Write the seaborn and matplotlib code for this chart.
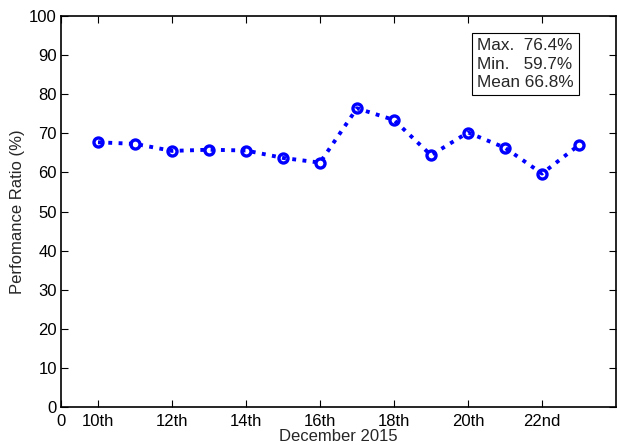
import matplotlib
matplotlib.use("Agg")
import matplotlib.pyplot as plt
import seaborn as sns
import pandas as pd

days = [10, 11, 12, 13, 14, 15, 16, 17, 18, 19, 20, 21, 22, 23]
ratio = [67.7, 67.3, 65.5, 65.8, 65.6, 63.7, 62.5, 76.4, 73.4, 64.4, 70.2, 66.3, 59.7, 67.0]
xtick_pos = [9, 10, 12, 14, 16, 18, 20, 22]
xtick_labels = ["0", "10th", "12th", "14th", "16th", "18th", "20th", "22nd"]
ytick_pos = [0, 10, 20, 30, 40, 50, 60, 70, 80, 90, 100]
stats_text = "Max.  76.4%\nMin.   59.7%\nMean 66.8%"

sns.set_style("white")
plt.rcParams["font.family"] = ["Liberation Sans", "DejaVu Sans"]

df = pd.DataFrame({"day": days, "ratio": ratio})

fig = plt.figure(figsize=(6.17, 4.45), dpi=100)
ax = fig.add_axes([61 / 617, 1 - 407 / 445, 555 / 617, 391 / 445])

sns.lineplot(data=df, x="day", y="ratio", ax=ax, color="#0000ff",
             linestyle=":", linewidth=2.8, marker="o", markersize=6.5,
             markerfacecolor="none", markeredgecolor="#0000ff",
             markeredgewidth=2.4)

ax.set_xlim(9, 24)
ax.set_ylim(0, 100)
ax.set_xticks(xtick_pos)
ax.set_xticklabels(xtick_labels)
ax.set_yticks(ytick_pos)
ax.set_yticklabels([str(v) for v in ytick_pos])
ax.tick_params(direction="in", length=5, width=0.8, labelsize=12,
               top=True, right=True, bottom=True, left=True, pad=3, colors="black")
ax.tick_params(axis="x", pad=5)
ax.set_xlabel("December 2015", fontsize=12, labelpad=0)
ax.set_ylabel("Perfomance Ratio (%)", fontsize=12, labelpad=3)
for s in ax.spines.values():
    s.set_visible(True)
    s.set_color("black")
    s.set_linewidth(1.2)

ax.text(416 / 555, 1 - 22 / 391, stats_text, transform=ax.transAxes, fontsize=12.3,
        va="top", ha="left", linespacing=1.3,
        bbox=dict(boxstyle="square,pad=0.3", facecolor="white",
                  edgecolor="black", linewidth=0.8))

fig.savefig("out.png", dpi=100)
